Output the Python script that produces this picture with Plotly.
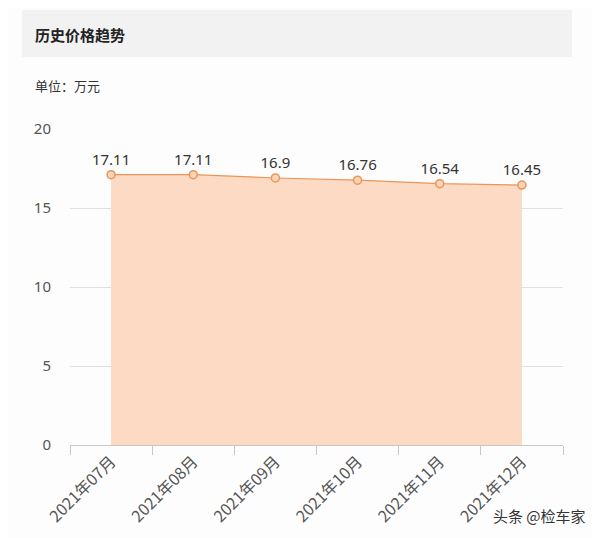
import plotly.graph_objects as go

months = ["2021年07月", "2021年08月", "2021年09月", "2021年10月", "2021年11月", "2021年12月"]
prices = [17.11, 17.11, 16.9, 16.76, 16.54, 16.45]
price_labels = ["17.11", "17.11", "16.9", "16.76", "16.54", "16.45"]
y_ticks = [0, 5, 10, 15, 20]

font_cjk = "Noto Sans CJK SC, Noto Sans, sans-serif"

fig = go.Figure()
fig.add_trace(go.Scatter(
    x=months, y=prices,
    mode="lines+markers+text",
    text=price_labels,
    textposition="top center",
    textfont=dict(size=15, color="#333333", family="Noto Sans, sans-serif"),
    fill="tozeroy",
    fillcolor="rgba(253,216,192,0.95)",
    line=dict(color="#e8955a", width=1.2),
    marker=dict(size=8, color="#fbd3b5", line=dict(color="#e8955a", width=1.5)),
    cliponaxis=False,
    showlegend=False,
))

# page body has 8px margin: offsets compensated in margins
fig.update_layout(
    width=600, height=538,
    paper_bgcolor="#fdfdfd",
    plot_bgcolor="#fdfdfd",
    margin=dict(l=62, r=45, t=121, b=101),
    font=dict(family=font_cjk, color="#555555"),
    shapes=[dict(type="rect", xref="paper", yref="paper",
                 x0=-48/493, x1=502/493, y0=1+72/316, y1=1+119/316,
                 fillcolor="#f2f2f2", line=dict(width=0), layer="below")],
    annotations=[
        dict(text="<b>历史价格趋势</b>", xref="paper", yref="paper",
             x=-37/493, y=1+94/316, xanchor="left", yanchor="middle",
             showarrow=False, font=dict(size=15, color="#222222", family=font_cjk)),
        dict(text="单位：万元", xref="paper", yref="paper",
             x=-37/493, y=1+43/316, xanchor="left", yanchor="middle",
             showarrow=False, font=dict(size=13, color="#333333", family=font_cjk)),
        dict(text="头条 @检车家", xref="paper", yref="paper",
             x=518/493, y=-70/316, xanchor="right", yanchor="middle",
             showarrow=False, font=dict(size=15, color="#333333", family=font_cjk)),
    ],
)

fig.update_xaxes(
    type="category",
    range=[-0.5, 5.5],
    tickson="boundaries",
    ticks="outside", ticklen=9, tickcolor="#c8c8c8",
    showline=True, linecolor="#c8c8c8", linewidth=1,
    showgrid=False,
    tickangle=-45,
    tickfont=dict(size=16, color="#555555", family=font_cjk),
)
fig.update_yaxes(
    range=[0, 20],
    tickvals=y_ticks,
    showgrid=True, gridcolor="#e0e0e0", gridwidth=1,
    zeroline=False, showline=False,
    ticks="", ticklabelstandoff=18,
    tickfont=dict(size=15, color="#555555", family="Noto Sans, sans-serif"),
)

fig.write_html("out.html")
